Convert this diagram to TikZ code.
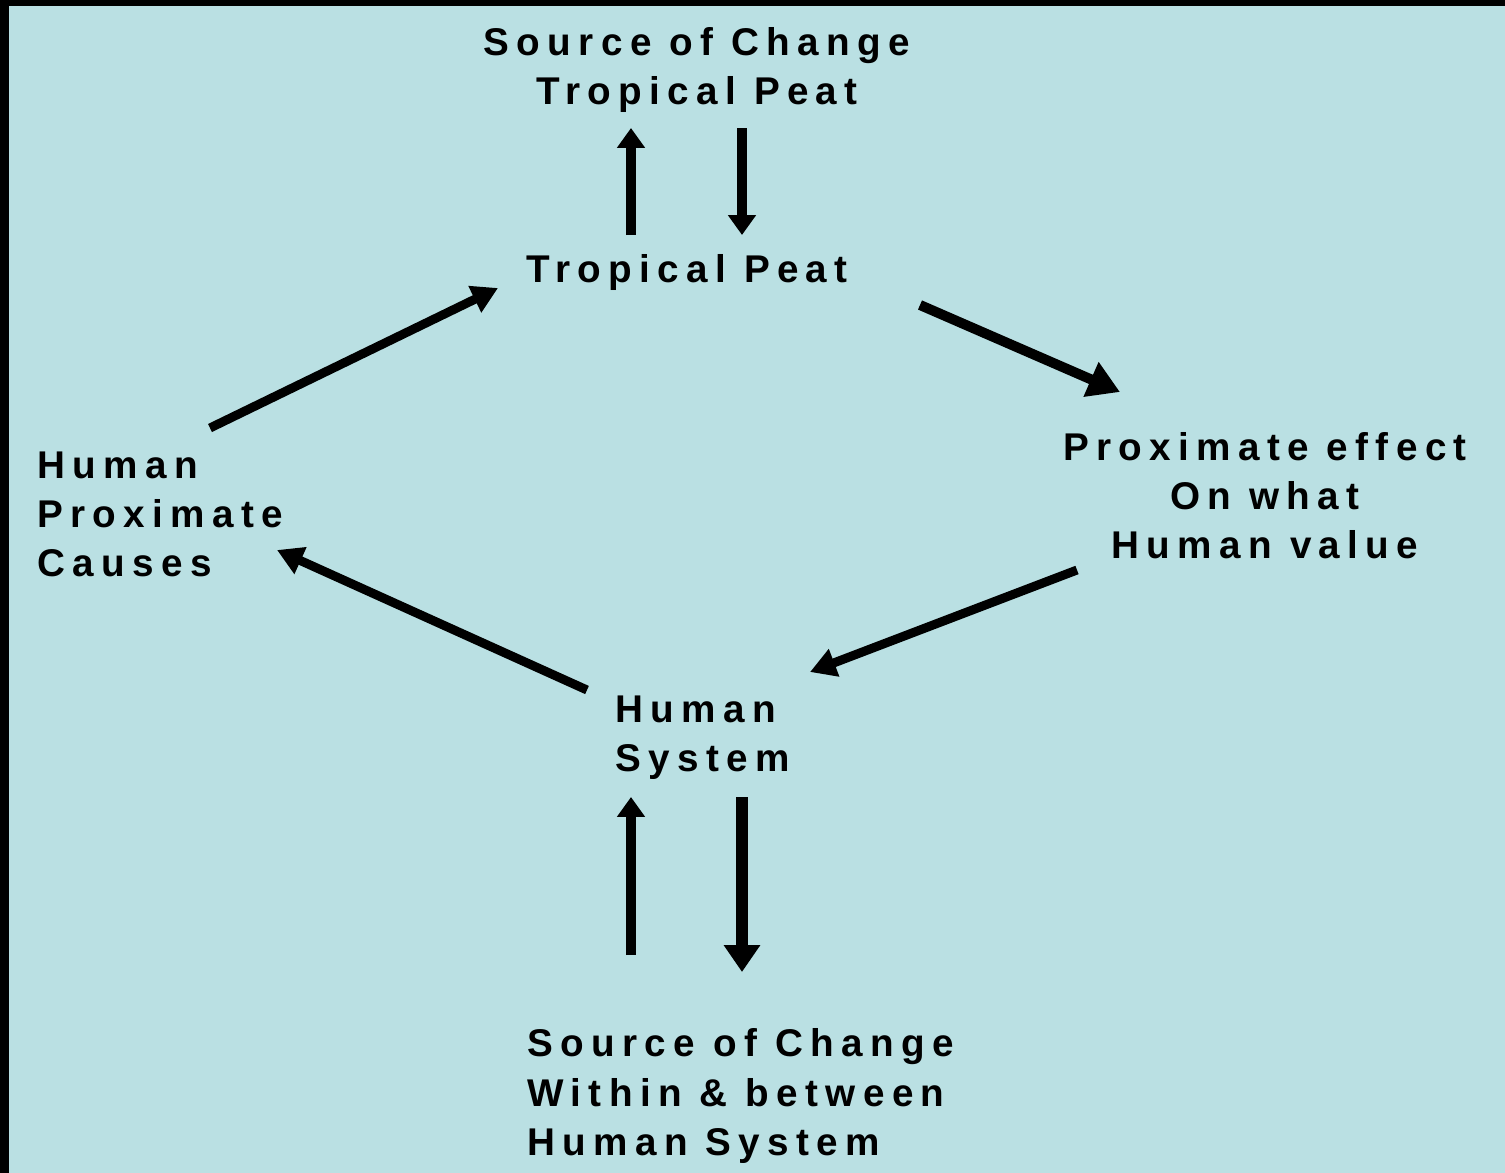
\documentclass[tikz,border=0pt]{standalone}
\usepackage{fontspec}
\newfontfamily\diagfont{Liberation Sans}[LetterSpace=19]
\usetikzlibrary{arrows.meta}
\definecolor{panel}{HTML}{BAE0E3}

\begin{document}
\begin{tikzpicture}[x=0.02cm, y=-0.02cm,
    lbl/.style={inner sep=0pt, text=black,
      font=\diagfont\bfseries\fontsize{22}{27.9}\selectfont},
    ar/.style={-{Triangle[length=11.3pt, width=15.3pt]}, line width=5.4pt},
    diag/.style={-{Triangle[length=14.7pt, width=15.9pt]}, line width=5.1pt},
    bigar/.style={-{Triangle[length=15.3pt, width=19.8pt]}, line width=6.8pt}]
  \useasboundingbox (0,0) rectangle (1505,1173);
  \fill[black] (0,0) rectangle (1505,1173);
  \fill[panel] (9,6) rectangle (1505,1173);
  % labels
  \node[lbl, align=center] (srcpeat) at (697,70) {Source of Change\\Tropical Peat};
  \node[lbl] (peat) at (687,273) {Tropical Peat};
  \node[lbl, align=center] (effect) at (1265,496) {Proximate effect\\On what\\Human value};
  \node[lbl, align=left, anchor=west] (hsys) at (615,738) {Human\\System};
  \node[lbl, align=left, anchor=west] (causes) at (37,514) {Human\\Proximate\\Causes};
  \node[lbl, align=left, anchor=west] (srcsys) at (527,1096) {Source of Change\\Within \& between\\Human System};
  % arrows
  \draw[ar] ([shift={(-56,-38)}]peat.center) -- ([shift={(-66,58)}]srcpeat.center);
  \draw[ar] ([shift={(45,58)}]srcpeat.center) -- ([shift={(55,-38)}]peat.center);
  \draw[diag, line width=5.7pt, -{Triangle[length=18pt, width=20.4pt]}]
    ([shift={(233,32)}]peat.center) -- ([shift={(-145,-104)}]effect.center);
  \draw[diag] ([shift={(-188,74)}]effect.center) -- ([shift={(195,-66)}]hsys.west);
  \draw[diag] ([shift={(-28,-48)}]hsys.west) -- ([shift={(240,36)}]causes.west);
  \draw[diag] ([shift={(173,-86)}]causes.west) -- ([shift={(-189,15)}]peat.center);
  \draw[ar] ([shift={(104,-141)}]srcsys.west) -- ([shift={(16,59)}]hsys.west);
  \draw[bigar] ([shift={(127,59)}]hsys.west) -- ([shift={(215,-124)}]srcsys.west);
\end{tikzpicture}
\end{document}
